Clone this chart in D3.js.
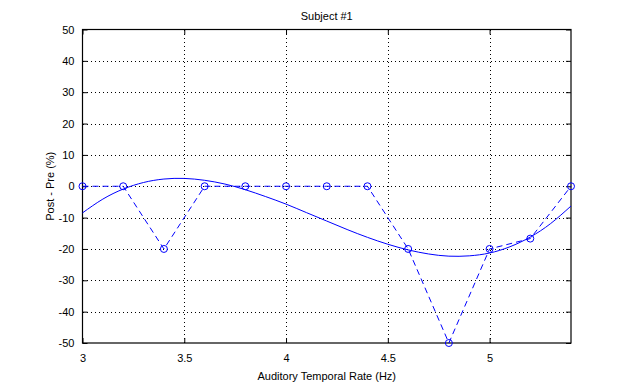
<!DOCTYPE html>
<html>
<head>
<meta charset="utf-8">
<title>Subject #1</title>
<style>
  body { margin: 0; background: #fff; }
  svg { display: block; font-family: "Liberation Sans", Arial, Helvetica, sans-serif; }
  .axis text { font-size: 11px; fill: #000; }
  .grid line { stroke: #000; stroke-dasharray: 1,3; shape-rendering: crispEdges; }
</style>
<script src="https://d3js.org/d3.v7.min.js"></script>
</head>
<body>
<svg width="630" height="385"></svg>
<script>
// measured points (x in Hz, post - pre in %)
const rates = [3.0, 3.2, 3.4, 3.6, 3.8, 4.0, 4.2, 4.4, 4.6, 4.8, 5.0, 5.2, 5.4];
const changes = [0, 0, -20, 0, 0, 0, 0, 0, -20, -50, -20, -16.7, 0];

// smooth fit curve
const fitX = [3.0, 3.1, 3.2, 3.3, 3.4, 3.5, 3.6, 3.7, 3.8, 3.9, 4.0, 4.1, 4.2, 4.3,
              4.4, 4.5, 4.6, 4.7, 4.8, 4.9, 5.0, 5.1, 5.2, 5.3, 5.4];
const fitY = [-8.5, -4.1, -0.9, 1.2, 2.3, 2.5, 1.9, 0.7, -1.1, -3.3, -5.7, -8.4, -11.1, -13.8,
              -16.3, -18.5, -20.3, -21.6, -22.3, -22.2, -21.3, -19.3, -16.2, -11.9, -6.3];

const xTicks = [3, 3.5, 4, 4.5, 5];
const yTicks = [-50, -40, -30, -20, -10, 0, 10, 20, 30, 40, 50];

const svg = d3.select('svg');
const pLeft = 82.5, pRight = 571, pTop = 29.5, pBottom = 343;

const x = d3.scaleLinear().domain([3, 5.4]).range([pLeft, pRight]);
const y = d3.scaleLinear().domain([-50, 50]).range([pBottom, pTop]);

// grid
const grid = svg.append('g').attr('class', 'grid');
grid.selectAll('.gx').data(xTicks.filter(d => d > 3))
  .enter().append('line')
  .attr('x1', d => Math.round(x(d)) + 0.5).attr('x2', d => Math.round(x(d)) + 0.5)
  .attr('y1', pTop).attr('y2', pBottom);
grid.selectAll('.gy').data(yTicks.filter(d => d > -50 && d < 50))
  .enter().append('line')
  .attr('y1', d => Math.round(y(d)) + 0.5).attr('y2', d => Math.round(y(d)) + 0.5)
  .attr('x1', pLeft).attr('x2', pRight);

// axes, ticks inward on all sides (plain hyphen for negatives, like matlab)
const fmt = d => String(d);
svg.append('g').attr('class', 'axis')
  .attr('transform', 'translate(0,' + pBottom + ')')
  .call(d3.axisBottom(x).tickValues(xTicks).tickFormat(fmt).tickSizeInner(-5).tickSizeOuter(0).tickPadding(11));
svg.append('g').attr('class', 'axis')
  .attr('transform', 'translate(0,' + pTop + ')')
  .call(d3.axisTop(x).tickValues(xTicks).tickSizeInner(-5).tickSizeOuter(0).tickFormat(''));
svg.append('g').attr('class', 'axis')
  .attr('transform', 'translate(' + pLeft + ',0)')
  .call(d3.axisLeft(y).tickValues(yTicks).tickFormat(fmt).tickSizeInner(-5).tickSizeOuter(0).tickPadding(8));
svg.append('g').attr('class', 'axis')
  .attr('transform', 'translate(' + pRight + ',0)')
  .call(d3.axisRight(y).tickValues(yTicks).tickSizeInner(-5).tickSizeOuter(0).tickFormat(''));

svg.selectAll('.axis .domain').remove();
svg.selectAll('.axis line').attr('stroke', '#000');

// box
svg.append('rect')
  .attr('x', pLeft).attr('y', pTop)
  .attr('width', pRight - pLeft).attr('height', pBottom - pTop)
  .attr('fill', 'none').attr('stroke', '#000').attr('stroke-width', 1.2);

// fit curve
const fitLine = d3.line()
  .x((d, i) => x(fitX[i]))
  .y(d => y(d))
  .curve(d3.curveNatural);
svg.append('path')
  .attr('d', fitLine(fitY))
  .attr('fill', 'none').attr('stroke', '#0000ff').attr('stroke-width', 1);

// measured line
const dataLine = d3.line()
  .x((d, i) => x(rates[i]))
  .y(d => y(d));
svg.append('path')
  .attr('d', dataLine(changes))
  .attr('fill', 'none').attr('stroke', '#0000ff').attr('stroke-width', 1)
  .attr('stroke-dasharray', '6,4');

svg.selectAll('circle.pt').data(changes)
  .enter().append('circle')
  .attr('cx', (d, i) => x(rates[i]))
  .attr('cy', d => y(d))
  .attr('r', 3.5)
  .attr('fill', 'none').attr('stroke', '#0000ff').attr('stroke-width', 1);

// labels
svg.append('text')
  .attr('x', (pLeft + pRight) / 2).attr('y', 20)
  .attr('text-anchor', 'middle').attr('font-size', 11)
  .text('Subject #1');
svg.append('text')
  .attr('x', (pLeft + pRight) / 2).attr('y', 380)
  .attr('text-anchor', 'middle').attr('font-size', 11)
  .text('Auditory Temporal Rate (Hz)');
svg.append('text')
  .attr('transform', 'translate(54,' + ((pTop + pBottom) / 2) + ')rotate(-90)')
  .attr('text-anchor', 'middle').attr('font-size', 11)
  .text('Post - Pre (%)');
</script>
</body>
</html>
